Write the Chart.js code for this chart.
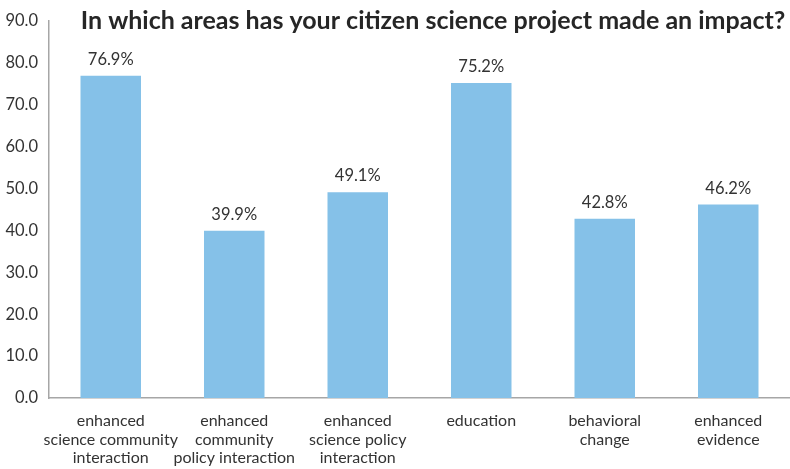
<!DOCTYPE html>
<html><head><meta charset="utf-8">
<script src="https://cdn.jsdelivr.net/npm/chart.js@4"></script>
<style>html,body{margin:0;padding:0;background:#fff;}#wrap{width:790px;height:469px;position:relative;}</style>
</head><body><div id="wrap"><canvas id="c" width="790" height="469"></canvas></div>
<script>
const categories = [
  ["enhanced","science community","interaction"],
  ["enhanced","community","policy interaction"],
  ["enhanced","science policy","interaction"],
  ["education"],
  ["behavioral","change"],
  ["enhanced","evidence"]
];
const values = [76.9, 39.9, 49.1, 75.2, 42.8, 46.2];
const titleText = "In which areas has your citizen science project made an impact?";
const yMax = 90, yStep = 10;

const FONT = "Lato, 'Liberation Sans', sans-serif";
const TXT = '#333333';

const titlePlugin = {
  id: 'topTitle',
  afterDraw(chart) {
    const ctx = chart.ctx;
    ctx.save();
    ctx.font = "bold 25px " + FONT;
    ctx.fillStyle = '#262626';
    ctx.textAlign = 'center';
    ctx.textBaseline = 'middle';
    ctx.fillText(titleText, 433, 21);
    ctx.restore();
  }
};
const labelPlugin = {
  id: 'valLabels',
  afterDatasetsDraw(chart) {
    const ctx = chart.ctx;
    const meta = chart.getDatasetMeta(0);
    ctx.save();
    ctx.font = "16.5px " + FONT;
    ctx.fillStyle = TXT;
    ctx.textAlign = 'center';
    ctx.textBaseline = 'bottom';
    meta.data.forEach((bar, i) => {
      ctx.fillText(values[i].toFixed(1) + '%', bar.x, bar.y - 8);
    });
    ctx.restore();
  }
};

new Chart(document.getElementById('c'), {
  type: 'bar',
  data: {
    labels: categories,
    datasets: [{
      data: values,
      backgroundColor: '#85C1E8',
      borderWidth: 0,
      barPercentage: 0.49,
      categoryPercentage: 1.0
    }]
  },
  options: {
    responsive: false,
    animation: false,
    devicePixelRatio: 1,
    layout: { padding: { top: 10, right: 0, left: 0, bottom: 0 } },
    plugins: { legend: { display: false }, tooltip: { enabled: false }, title: { display: false } },
    scales: {
      x: {
        grid: { display: false, drawTicks: false },
        border: { display: true, color: '#a6a6a6', width: 1.5 },
        ticks: { color: TXT, font: { family: FONT, size: 16, lineHeight: 1.15 }, padding: 14, maxRotation: 0, autoSkip: false },
        afterFit(s) { s.height = 71; }
      },
      y: {
        min: 0, max: yMax,
        grid: { display: false, drawTicks: false },
        border: { display: true, color: '#a6a6a6', width: 1.5 },
        ticks: { stepSize: yStep, color: TXT, font: { family: FONT, size: 16.5 }, padding: 11,
          callback: v => Number(v).toFixed(1) },
        afterFit(s) { s.width = 49; }
      }
    }
  },
  plugins: [titlePlugin, labelPlugin]
});
</script></body></html>
